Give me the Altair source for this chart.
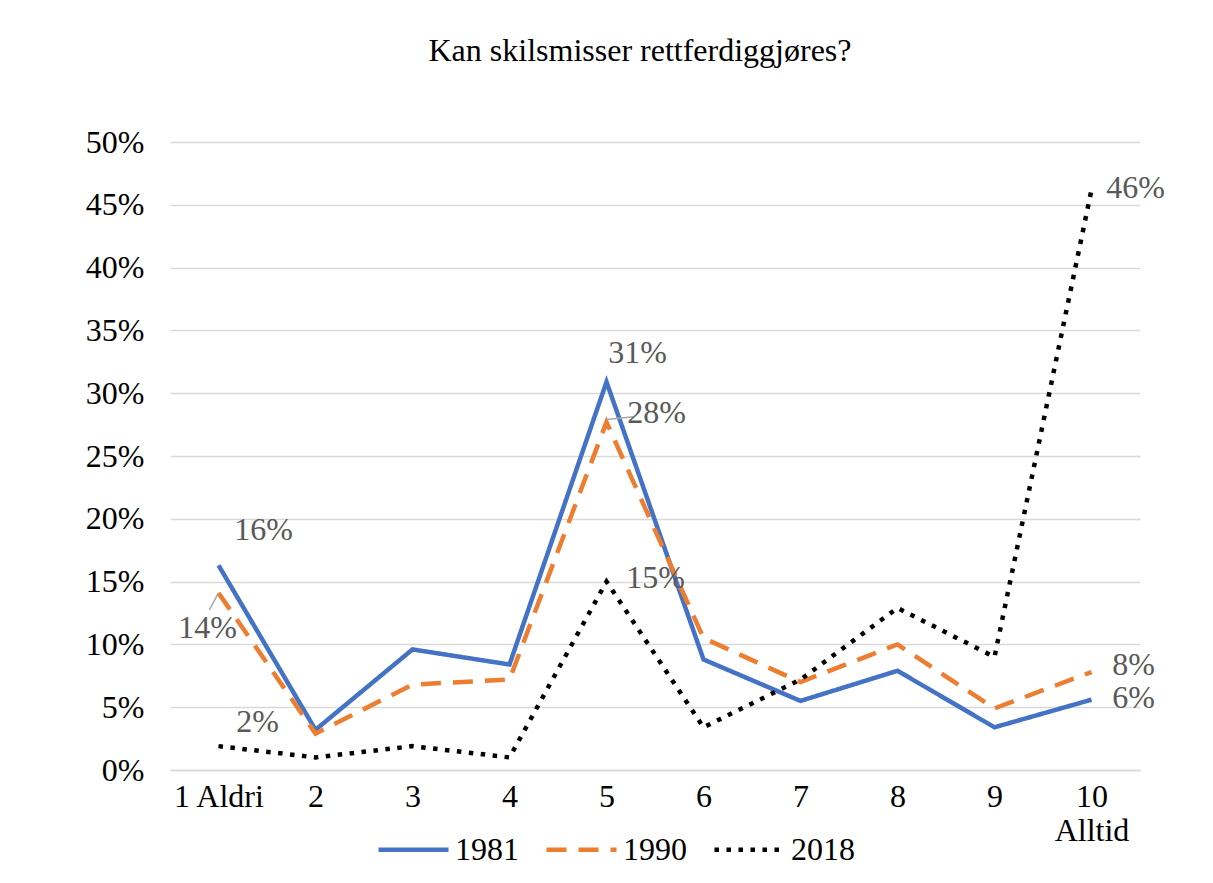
import altair as alt
import pandas as pd

categories = ["1 Aldri", "2", "3", "4", "5", "6", "7", "8", "9", "10 Alltid"]
series = ["1981", "1990", "2018"]
v1981 = [16.3, 3.2, 9.6, 8.4, 30.9, 8.8, 5.5, 7.9, 3.4, 5.6]
v1990 = [14.1, 2.9, 6.8, 7.2, 27.7, 10.5, 7.0, 10.0, 4.9, 7.8]
v2018 = [1.9, 1.0, 1.9, 1.0, 15.0, 3.4, 7.2, 12.9, 9.0, 46.2]
colors = ["#4472C4", "#ED7D31", "#000000"]
dashes = [[1, 0], [20, 12], [4.5, 7.5]]
y_ticks = [0, 5, 10, 15, 20, 25, 30, 35, 40, 45, 50]

# which points carry a data label: (series, category, dx, dy)
label_points = [
    ("1981", "1 Aldri", 45, -35),
    ("1990", "1 Aldri", -11, 35),
    ("2018", "1 Aldri", 39, -24),
    ("1981", "5", 31, -29),
    ("1990", "5", 50, -9),
    ("2018", "5", 49, -4),
    ("2018", "10 Alltid", 44, -2),
    ("1990", "10 Alltid", 42, -7),
    ("1981", "10 Alltid", 42, -2),
]
# leader lines: (series, category, svg path, symbol size)
leaders = [
    ("1990", "1 Aldri", "M0,0L-0.53,1", 1156),
    ("1990", "5", "M0,-0.1L1,-0.2", 2916),
]

rows = []
for s, vals in zip(series, [v1981, v1990, v2018]):
    for c, v in zip(categories, vals):
        rows.append({"cat": c, "year": s, "v": v})
df = pd.DataFrame(rows)

FONT = "Liberation Serif"
FS = 32

x_enc = alt.X(
    "cat:N",
    sort=categories,
    scale=alt.Scale(type="point", padding=0.5),
    axis=alt.Axis(
        title=None,
        labelAngle=0,
        labelExpr="datum.value == '10 Alltid' ? ['10', 'Alltid'] : datum.value",
        labelFontSize=FS,
        labelFont=FONT,
        labelColor="#000000",
        labelBaseline="top",
        labelLineHeight=34,
        labelPadding=11,
        labelOverlap=False,
        ticks=False,
        domainColor="#d9d9d9",
        domainWidth=1.5,
    ),
)
y_enc = alt.Y(
    "v:Q",
    scale=alt.Scale(domain=[0, 50]),
    axis=alt.Axis(
        title=None,
        values=y_ticks,
        labelExpr="datum.value + '%'",
        labelFontSize=FS,
        labelFont=FONT,
        labelColor="#000000",
        labelPadding=26,
        domain=False,
        ticks=False,
        grid=True,
        gridColor="#d9d9d9",
        gridWidth=1.5,
    ),
)

legend = alt.Legend(
    title=None,
    orient="none",
    legendX=206,
    legendY=670,
    direction="horizontal",
    symbolType="stroke",
    symbolSize=4900,
    symbolStrokeWidth=4.5,
    labelFontSize=FS,
    labelFont=FONT,
    labelColor="#000000",
    labelOffset=4,
    columnPadding=18,
)

lines = alt.Chart(df).mark_line(strokeWidth=4.5).encode(
    x=x_enc,
    y=y_enc,
    color=alt.Color("year:N", scale=alt.Scale(domain=series, range=colors), legend=legend),
    strokeDash=alt.StrokeDash("year:N", scale=alt.Scale(domain=series, range=dashes), legend=legend),
)

layers = [lines]
for s, c, path, size in leaders:
    layers.append(
        alt.Chart(df)
        .transform_filter((alt.datum.year == s) & (alt.datum.cat == c))
        .mark_point(shape=path, size=size, filled=False, stroke="#a6a6a6", strokeWidth=1.5, opacity=1)
        .encode(x=alt.X("cat:N", sort=categories), y="v:Q")
    )
for s, c, dx, dy in label_points:
    layers.append(
        alt.Chart(df)
        .transform_filter((alt.datum.year == s) & (alt.datum.cat == c))
        .transform_calculate(lbl="format(datum.v, '.0f') + '%'")
        .mark_text(dx=dx, dy=dy, fontSize=FS, font=FONT, color="#595959", align="center", baseline="middle")
        .encode(x=alt.X("cat:N", sort=categories), y="v:Q", text="lbl:N")
    )

chart = (
    alt.layer(*layers)
    .properties(
        width=970,
        height=628,
        title=alt.TitleParams(
            "Kan skilsmisser rettferdiggjøres?",
            fontSize=32,
            font=FONT,
            fontWeight="normal",
            color="#000000",
            offset=58,
            dx=-15,
        ),
        padding={"left": 162, "top": 134, "right": 60, "bottom": 100},
        autosize="none",
    )
    .configure_view(stroke=None)
)

chart.save("out.html", embed_options={"renderer": "svg", "actions": False})
